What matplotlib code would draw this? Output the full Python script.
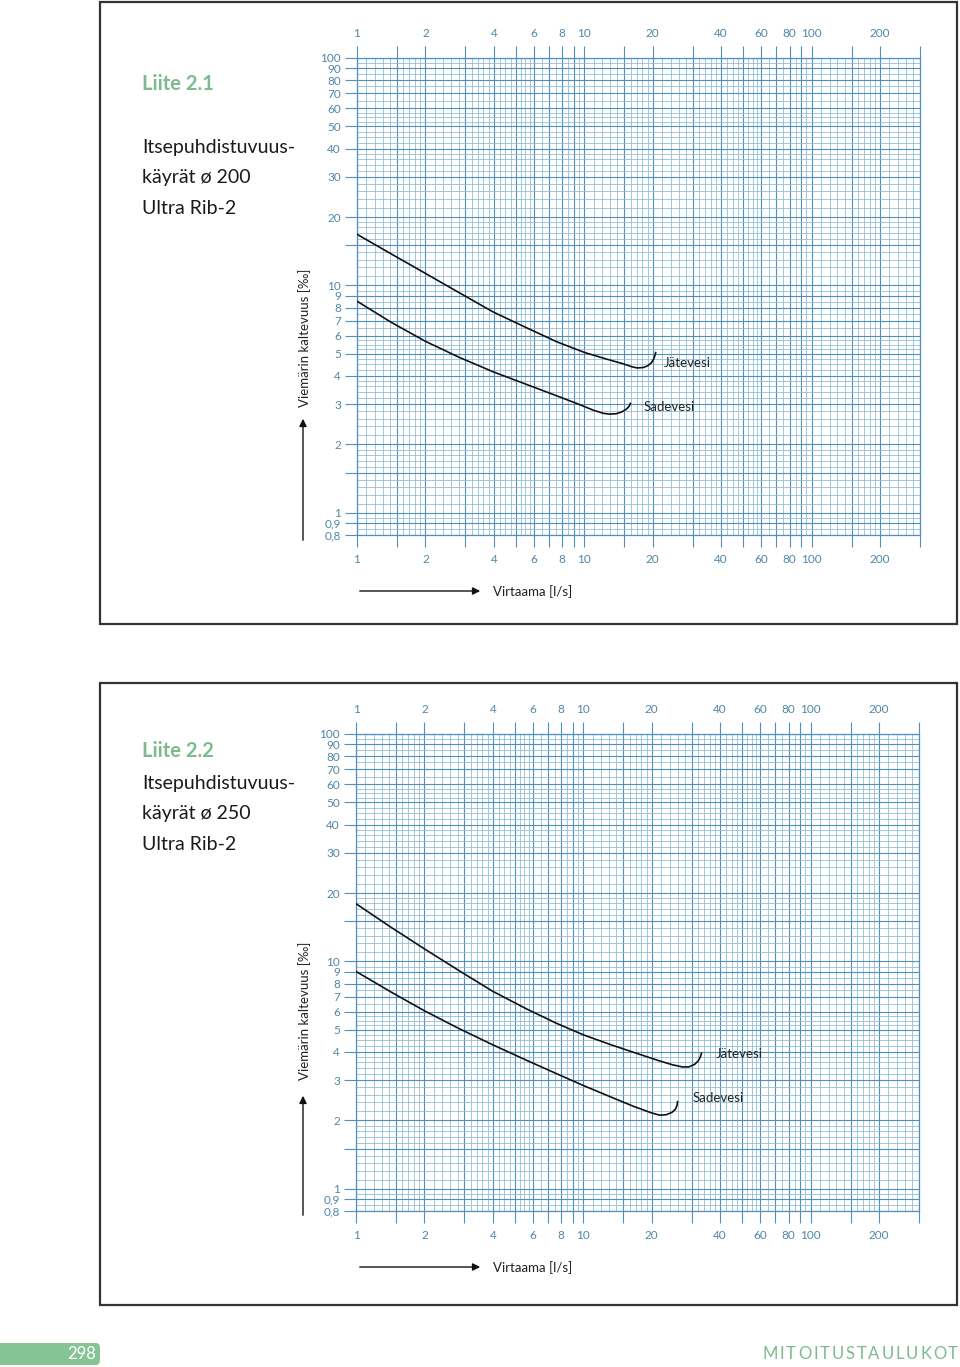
import numpy as np
import matplotlib
matplotlib.use('Agg')
import matplotlib.pyplot as plt
from matplotlib.ticker import NullFormatter
from matplotlib.patches import Rectangle, FancyBboxPatch, FancyArrowPatch

plt.rcParams['font.family'] = ['Lato', 'DejaVu Sans']

W, H = 960, 1367

# axis ticks
x_major = [1, 1.5, 2, 3, 4, 5, 6, 7, 8, 9, 10, 15, 20, 30, 40, 50, 60, 70, 80, 90, 100, 150, 200, 300]
x_labels = {1: '1', 2: '2', 4: '4', 6: '6', 8: '8', 10: '10', 20: '20', 40: '40',
            60: '60', 80: '80', 100: '100', 200: '200'}
y_major = [0.8, 0.9, 1, 1.5, 2, 3, 4, 5, 6, 7, 8, 9, 10, 15, 20, 30, 40, 50, 60, 70, 80, 90, 100]
y_labels = {0.8: '0,8', 0.9: '0,9', 1: '1', 2: '2', 3: '3', 4: '4', 5: '5', 6: '6', 7: '7',
            8: '8', 9: '9', 10: '10', 20: '20', 30: '30', 40: '40', 50: '50', 60: '60',
            70: '70', 80: '80', 90: '90', 100: '100'}

# Liite 2.1 (ø 200) curves
jate_200_x = [1, 1.413, 1.995, 2.818, 3.981, 5.623, 7.586, 10, 12.59, 14.79, 16.22, 17.1, 18.2,
              19.05, 19.72, 20.18, 20.46, 20.61]
jate_200_y = [16.79, 13.77, 11.32, 9.29, 7.64, 6.49, 5.65, 5.08, 4.74, 4.53, 4.39, 4.34, 4.36,
              4.44, 4.57, 4.74, 4.92, 5.07]
sade_200_x = [1, 1.413, 1.995, 2.818, 3.981, 5.623, 7.586, 9.333, 10.96, 12.16, 12.88, 13.8,
              14.62, 15.31, 15.74, 15.96]
sade_200_y = [8.53, 6.89, 5.69, 4.83, 4.17, 3.66, 3.27, 3.02, 2.83, 2.74, 2.72, 2.73,
              2.78, 2.86, 2.94, 3.03]

# Liite 2.2 (ø 250) curves
jate_250_x = [1, 1.413, 1.995, 2.818, 3.981, 5.623, 7.586, 10, 13.18, 17.38, 21.38, 24.55,
              27.23, 29.17, 30.9, 31.99, 32.73, 33.11]
jate_250_y = [17.95, 14.22, 11.38, 9.16, 7.41, 6.19, 5.36, 4.76, 4.31, 3.93, 3.67, 3.52,
              3.44, 3.44, 3.53, 3.65, 3.80, 3.95]
sade_250_x = [1, 1.413, 1.995, 2.818, 3.981, 5.623, 7.586, 10, 13.18, 16.6, 19.95, 21.68,
              23.17, 24.55, 25.41, 25.82, 26.0]
sade_250_y = [9.04, 7.38, 6.08, 5.09, 4.31, 3.68, 3.22, 2.85, 2.54, 2.31, 2.16, 2.11,
              2.12, 2.17, 2.24, 2.32, 2.42]

panels = [
    dict(title='Liite 2.1', sub=['Itsepuhdistuvuus-', 'käyrät ø 200', 'Ultra Rib-2'],
         box=(100, 2, 957, 624), ax=(357, 58, 920, 535), title_y=84, sub_y=[148, 178, 208],
         jx=jate_200_x, jy=jate_200_y, sx=sade_200_x, sy=sade_200_y,
         jlab=(22.3, 4.58), slab=(18.2, 2.93), ylab_y=338, yarr=(543, 416), xarr_y=591),
    dict(title='Liite 2.2', sub=['Itsepuhdistuvuus-', 'käyrät ø 250', 'Ultra Rib-2'],
         box=(100, 683, 957, 1305), ax=(356, 734, 919, 1211), title_y=751, sub_y=[783, 814, 844],
         jx=jate_250_x, jy=jate_250_y, sx=sade_250_x, sy=sade_250_y,
         jlab=(38.1, 3.92), slab=(30.2, 2.51), ylab_y=1011, yarr=(1218, 1093), xarr_y=1267),
]

major_c = '#4f90bd'
minor_c = '#8ab8d2'
label_c = '#4f87a6'
green = '#7dbb8e'

sub_steps = np.concatenate([np.arange(1.1, 1.95, 0.1), np.arange(2.2, 3.95, 0.2),
                            np.arange(4.25, 5.95, 0.25), np.arange(6.5, 9.95, 0.5)])


def grid_minor(lo, hi, majors):
    vals = []
    for dec in [0.1, 1, 10, 100]:
        for s in sub_steps:
            v = round(s * dec, 4)
            if lo <= v <= hi and not any(abs(v - m) < 1e-6 for m in majors):
                vals.append(v)
    return vals


fig = plt.figure(figsize=(W / 100, H / 100), dpi=100)


def fx(px):
    return px / W


def fy(py):
    return 1 - py / H


for p in panels:
    x0, y0, x1, y1 = p['box']
    fig.patches.append(Rectangle((fx(x0), fy(y1)), fx(x1 - x0), (y1 - y0) / H,
                                 transform=fig.transFigure, fill=False,
                                 edgecolor='#333333', lw=1.6))
    a0, b0, a1, b1 = p['ax']
    ax = fig.add_axes([fx(a0), fy(b1), fx(a1 - a0), (b1 - b0) / H])
    ax.set_xscale('log')
    ax.set_yscale('log')
    ax.set_xlim(1, 300)
    ax.set_ylim(0.8, 100)

    ax.set_xticks(x_major)
    ax.set_xticklabels([x_labels.get(v, '') for v in x_major])
    ax.set_yticks(y_major)
    ax.set_yticklabels([y_labels.get(v, '') for v in y_major])
    ax.set_xticks(grid_minor(1, 300, x_major), minor=True)
    ax.set_yticks(grid_minor(0.8, 100, y_major), minor=True)
    ax.xaxis.set_minor_formatter(NullFormatter())
    ax.yaxis.set_minor_formatter(NullFormatter())

    ax.tick_params(which='major', direction='out', length=8.5, width=0.8, color=major_c,
                   labelcolor=label_c, labelsize=8.5, top=True, labeltop=True,
                   bottom=True, labelbottom=True, left=True, labelleft=True, right=False)
    ax.tick_params(axis='x', which='major', pad=5)
    ax.tick_params(axis='y', which='major', pad=3)
    ax.tick_params(which='minor', length=0)
    ax.grid(which='minor', color=minor_c, lw=0.55)
    ax.grid(which='major', color=major_c, lw=0.8)
    for s in ax.spines.values():
        s.set_color(major_c)
        s.set_linewidth(0.9)
    ax.set_axisbelow(True)

    ax.plot(p['jx'], p['jy'], color='#111111', lw=1.2, zorder=3)
    ax.plot(p['sx'], p['sy'], color='#111111', lw=1.2, zorder=3)
    ax.text(p['jlab'][0], p['jlab'][1], 'Jätevesi', fontsize=9.5, color='#222222',
            va='center', ha='left', zorder=4)
    ax.text(p['slab'][0], p['slab'][1], 'Sadevesi', fontsize=9.5, color='#222222',
            va='center', ha='left', zorder=4)

    # titles
    fig.text(fx(142), fy(p['title_y']), p['title'], fontsize=14.5, fontweight='bold',
             color=green, va='center', ha='left')
    for line, yy in zip(p['sub'], p['sub_y']):
        fig.text(fx(142), fy(yy), line, fontsize=14, color='#1a1a1a', va='center', ha='left')

    # axis labels with arrows
    fig.text(fx(305), fy(p['ylab_y']), 'Viemärin kaltevuus [‰]', rotation=90, fontsize=9.5,
             color='#222222', va='center', ha='center')
    fig.patches.append(FancyArrowPatch(
        (fx(303), fy(p['yarr'][0])), (fx(303), fy(p['yarr'][1])), transform=fig.transFigure,
        arrowstyle='-|>', mutation_scale=11, color='#111111', lw=1.0))
    fig.patches.append(FancyArrowPatch(
        (fx(357), fy(p['xarr_y'])), (fx(483), fy(p['xarr_y'])), transform=fig.transFigure,
        arrowstyle='-|>', mutation_scale=11, color='#111111', lw=1.0))
    fig.text(fx(493), fy(p['xarr_y'] + 1), 'Virtaama [l/s]', fontsize=9.5, color='#222222',
             va='center', ha='left')

# footer
fig.patches.append(FancyBboxPatch((fx(-10), fy(1365)), fx(110), 22 / H,
                                  boxstyle='round,pad=0,rounding_size=0.004',
                                  transform=fig.transFigure, facecolor='#86c495',
                                  edgecolor='none'))
fig.text(fx(96), fy(1354), '298', fontsize=12, color='white', ha='right', va='center')

# letter-spaced footer word, laid out right-to-left from the page edge
renderer = fig.canvas.get_renderer()
word = 'MITOITUSTAULUKOT'
tracking = 1.9
xpos = 958
for ch in reversed(word):
    t = fig.text(fx(xpos), fy(1354), ch, fontsize=12, color='#7dbb8e',
                 ha='right', va='center')
    w = t.get_window_extent(renderer=renderer).width
    xpos -= w + tracking

fig.savefig('out.png', dpi=100)
